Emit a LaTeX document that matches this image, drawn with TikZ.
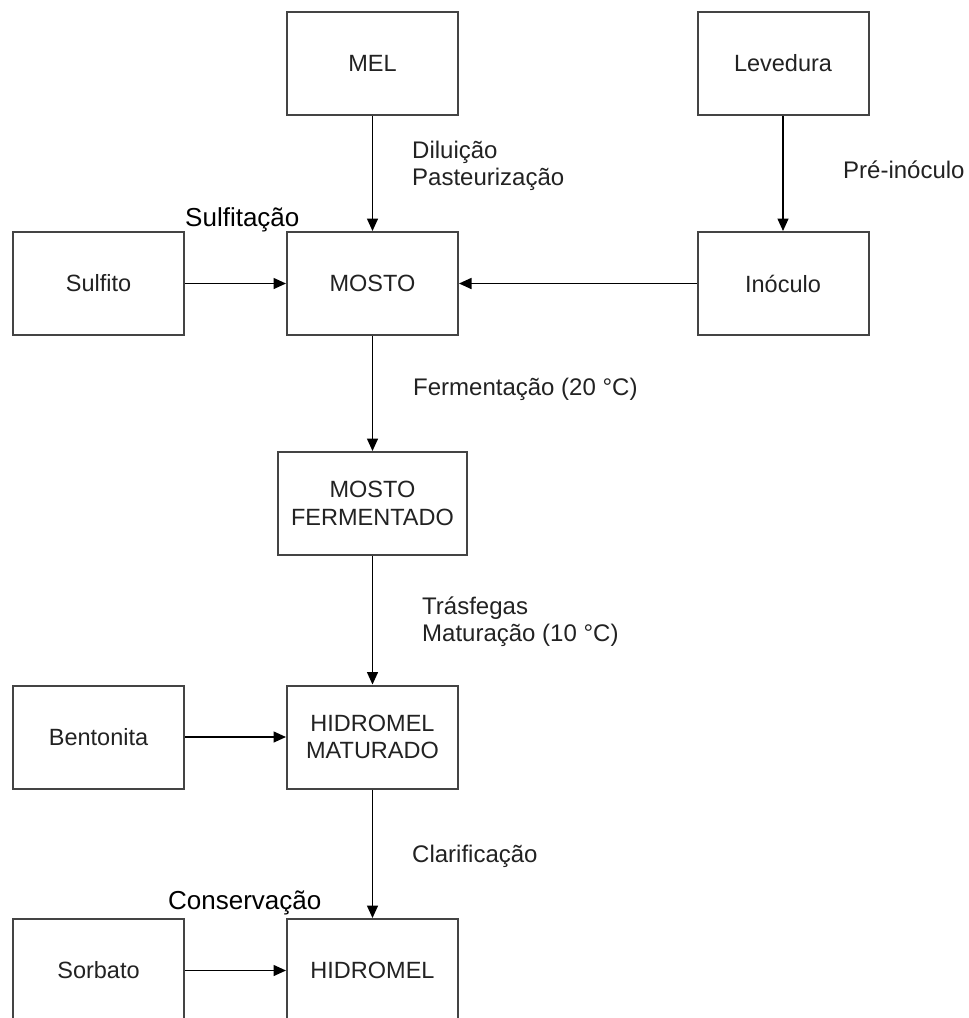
\documentclass[tikz,border=0pt]{standalone}
\usepackage{fontspec}
\setmainfont{Liberation Sans}
\usetikzlibrary{arrows.meta}
\definecolor{boxline}{HTML}{444444}
\definecolor{txt}{HTML}{222222}
\tikzset{
  procbox/.style={draw=boxline, line width=2bp, rectangle, minimum width=171bp, minimum height=103bp, inner sep=0pt, align=center, text=txt, font=\fontsize{23.5bp}{27.5bp}\selectfont},
  flow/.style={line width=1.5bp, draw=black, -{Triangle[length=12.5bp,width=11bp]}},
  steplabel/.style={inner sep=0pt, align=left, text=txt, font=\fontsize{24bp}{26.5bp}\selectfont},
  biglabel/.style={inner sep=0pt, text=black, font=\fontsize{26bp}{30bp}\selectfont}
}
\begin{document}
\begin{tikzpicture}[x=1bp,y=-1bp]
\useasboundingbox (0,0) rectangle (969,1018);
\clip (0,0) rectangle (969,1018);
\fill[white] (0,0) rectangle (969,1018);
% boxes
\node[procbox] (mel) at (372.5,63.5) {MEL};
\node[procbox] (lev) at (783,63.5) {Levedura};
\node[procbox] (sulf) at (98.5,283.5) {Sulfito};
\node[procbox] (mosto) at (372.5,283.5) {MOSTO};
\node[procbox] (inoc) at (783,283.5) {Inóculo};
\node[procbox, minimum width=189bp] (mf) at (372.5,503.5) {MOSTO\\FERMENTADO};
\node[procbox] (bent) at (98.5,737) {Bentonita};
\node[procbox] (hm) at (372.5,737) {HIDROMEL\\MATURADO};
\node[procbox] (sorb) at (98.5,970.5) {Sorbato};
\node[procbox] (hid) at (372.5,970.5) {HIDROMEL};
% connectors
\draw[flow] (mel.south) -- (mosto.north);
\draw[flow] (lev.south) -- (inoc.north);
\draw[flow] (inoc.west) -- (mosto.east);
\draw[flow] (sulf.east) -- (mosto.west);
\draw[flow] (mosto.south) -- (mf.north);
\draw[flow] (mf.south) -- (hm.north);
\draw[flow] (bent.east) -- (hm.west);
\draw[flow] (hm.south) -- (hid.north);
\draw[flow] (sorb.east) -- (hid.west);
% labels
\node[steplabel, anchor=north west] (l1) at (412,141) {Diluição\\Pasteurização};
\node[steplabel, anchor=base west] (l2) at (843,178) {Pré-inóculo};
\node[steplabel, anchor=base west] (l3) at (413,395) {Fermentação (20 °C)};
\node[steplabel, anchor=north west] (l4) at (422,597) {Trásfegas\\Maturação (10 °C)};
\node[steplabel, anchor=base west] (l5) at (412,862) {Clarificação};
\node[biglabel, anchor=base west] (l6) at (185,226) {Sulfitação};
\node[biglabel, anchor=base west] (l7) at (168,909) {Conservação};
\end{tikzpicture}
\end{document}
